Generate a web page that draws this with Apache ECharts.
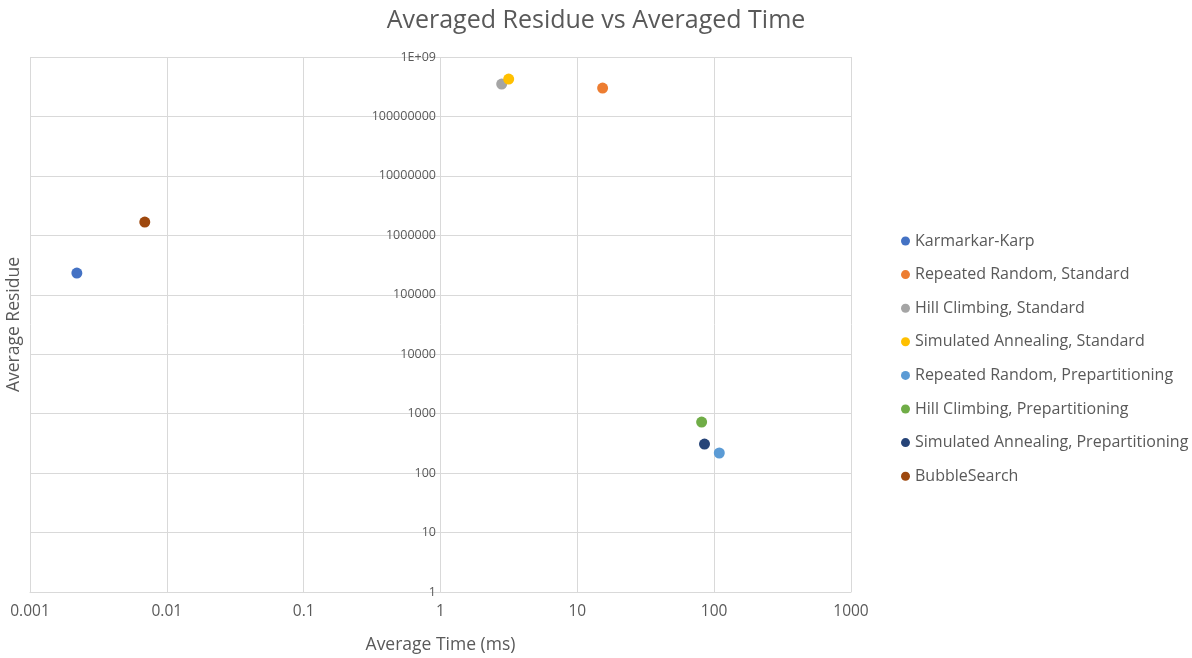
<!DOCTYPE html>
<html>
<head>
<meta charset="utf-8">
<script src="https://cdn.jsdelivr.net/npm/echarts@6/dist/echarts.min.js"></script>
<style>
  html, body { margin: 0; padding: 0; background: #fff; }
  #chart { width: 1192px; height: 658px; }
</style>
</head>
<body>
<div id="chart"></div>
<script>
// one point per algorithm
const seriesNames = [
  "Karmarkar-Karp",
  "Repeated Random, Standard",
  "Hill Climbing, Standard",
  "Simulated Annealing, Standard",
  "Repeated Random, Prepartitioning",
  "Hill Climbing, Prepartitioning",
  "Simulated Annealing, Prepartitioning",
  "BubbleSearch"
];
const avgTimeMs = [0.0022, 15.3, 2.8, 3.15, 109, 81, 85, 0.0069];
const avgResidue = [232000, 300000000, 350000000, 425000000, 218, 723, 308, 1670000];

const colors = ["#4472C4", "#ED7D31", "#A5A5A5", "#FFC000", "#5B9BD5", "#70AD47", "#264478", "#9E480E"];
const labelColor = "#595959";
const font = "Open Sans";

const chart = echarts.init(document.getElementById("chart"));

function yLabel(v) {
  if (v >= 1e9) return "1E+09";
  return String(Math.round(v));
}
function xLabel(v) {
  return String(Number(v.toPrecision(3)));
}

chart.setOption({
  animation: false,
  color: colors,
  title: {
    text: "Averaged Residue vs Averaged Time",
    left: "center",
    top: 3,
    textStyle: { color: labelColor, fontFamily: font, fontWeight: "normal", fontSize: 25 }
  },
  grid: { left: 30, right: 341, top: 57, bottom: 66, containLabel: false, outerBoundsMode: "none" },
  legend: {
    orient: "vertical",
    left: 896,
    top: 228,
    icon: "circle",
    itemWidth: 9,
    itemHeight: 9,
    itemGap: 17.6,
    data: seriesNames,
    textStyle: { color: labelColor, fontFamily: font, fontSize: 16, lineHeight: 16 }
  },
  xAxis: {
    type: "log",
    logBase: 10,
    min: 0.001,
    max: 1000,
    name: "Average Time (ms)",
    nameLocation: "middle",
    nameGap: 44,
    nameTextStyle: { color: labelColor, fontFamily: font, fontSize: 17.5 },
    axisLine: { lineStyle: { color: "#d9d9d9" } },
    axisTick: { show: false },
    axisLabel: { color: labelColor, fontFamily: font, fontSize: 15.5, margin: 12, formatter: xLabel },
    splitLine: { lineStyle: { color: "#d9d9d9" } }
  },
  yAxis: [
    {
      // labels sit on the x = 1 line
      type: "log",
      logBase: 10,
      min: 1,
      max: 1e9,
      offset: -411,
      axisLine: { show: false },
      axisTick: { show: false },
      axisLabel: { color: labelColor, fontFamily: font, fontSize: 12.5, margin: 5, formatter: yLabel },
      splitLine: { lineStyle: { color: "#d9d9d9" } }
    },
    {
      // only carries the axis title at the left edge
      type: "log",
      logBase: 10,
      min: 1,
      max: 1e9,
      position: "left",
      name: "Average Residue",
      nameLocation: "middle",
      nameGap: 7,
      nameTextStyle: { color: labelColor, fontFamily: font, fontSize: 17.5 },
      axisLine: { show: false },
      axisTick: { show: false },
      axisLabel: { show: false },
      splitLine: { show: false }
    }
  ],
  series: seriesNames.map((name, i) => ({
    name: name,
    type: "scatter",
    symbolSize: 11,
    itemStyle: { opacity: 1 },
    data: [[avgTimeMs[i], avgResidue[i]]]
  }))
});
</script>
</body>
</html>
